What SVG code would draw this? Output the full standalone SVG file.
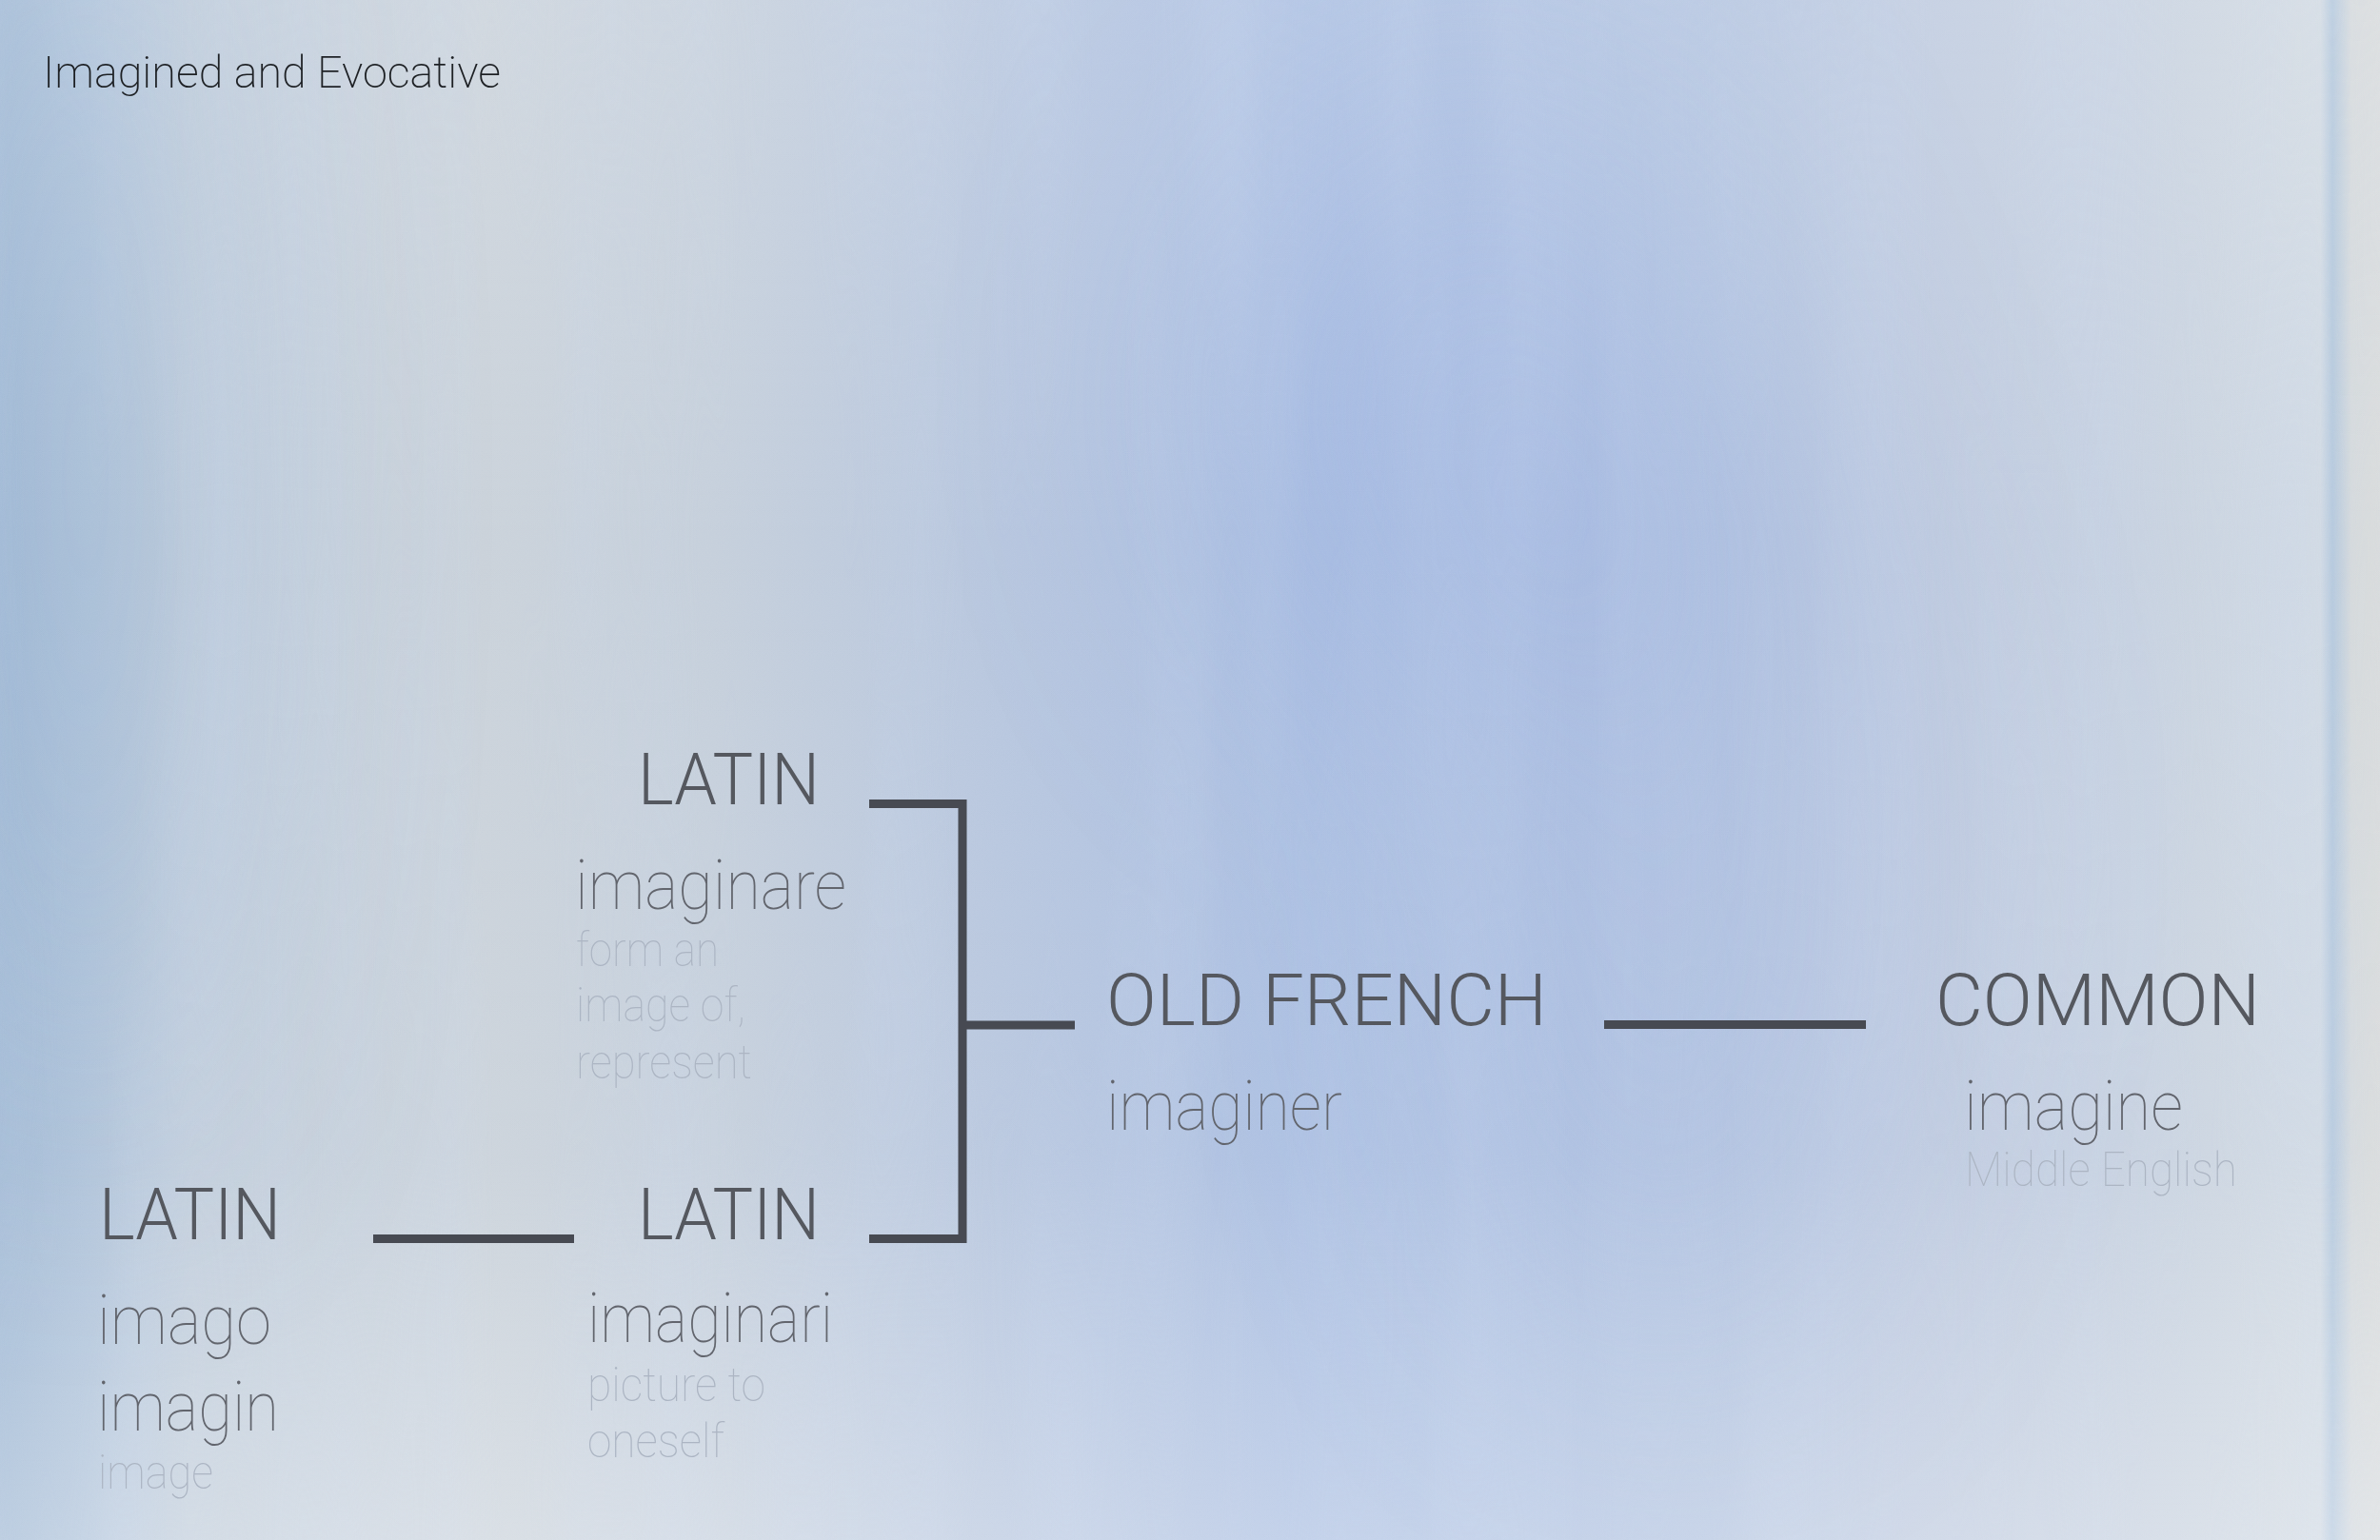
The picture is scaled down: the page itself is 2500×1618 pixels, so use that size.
<svg xmlns="http://www.w3.org/2000/svg" width="2500" height="1618" viewBox="0 0 2500 1618">
<defs>
<linearGradient id="bgH" x1="0" y1="0" x2="1" y2="0">
<stop offset="0" stop-color="#a2bad5"/>
<stop offset="0.035" stop-color="#afc3da"/>
<stop offset="0.08" stop-color="#c2cedb"/>
<stop offset="0.2" stop-color="#cbd3db"/>
<stop offset="0.3" stop-color="#c6d0dc"/>
<stop offset="0.42" stop-color="#b8c7df"/>
<stop offset="0.55" stop-color="#abbfe2"/>
<stop offset="0.64" stop-color="#aec1e1"/>
<stop offset="0.72" stop-color="#b4c5e0"/>
<stop offset="0.8" stop-color="#bfcbe0"/>
<stop offset="0.9" stop-color="#c8d2e0"/>
<stop offset="0.975" stop-color="#d3dbe3"/>
<stop offset="0.98" stop-color="#b4c8dc"/>
<stop offset="0.988" stop-color="#d6dadc"/>
<stop offset="1" stop-color="#dadcdc"/>
</linearGradient>
<linearGradient id="bgV" x1="0" y1="0" x2="0" y2="1">
<stop offset="0" stop-color="#ffffff" stop-opacity="0.12"/>
<stop offset="0.35" stop-color="#ffffff" stop-opacity="0"/>
<stop offset="0.75" stop-color="#ffffff" stop-opacity="0.04"/>
<stop offset="1" stop-color="#ffffff" stop-opacity="0.28"/>
</linearGradient>
<filter id="streaks" x="0" y="0" width="100%" height="100%">
<feTurbulence type="fractalNoise" baseFrequency="0.008 0.0008" numOctaves="3" seed="4"/>
<feColorMatrix type="matrix" values="0 0 0 0 0.58  0 0 0 0 0.68  0 0 0 0 0.86  0 0 0 1.6 -0.55"/>
</filter>
<filter id="grain" x="0" y="0" width="100%" height="100%">
<feTurbulence type="fractalNoise" baseFrequency="0.9" numOctaves="2" seed="7"/>
<feColorMatrix type="matrix" values="0 0 0 0 1  0 0 0 0 1  0 0 0 0 1  0 0 0 0.25 -0.05"/>
</filter>
<filter id="soft" x="-50%" y="-50%" width="200%" height="200%">
<feGaussianBlur stdDeviation="140"/>
</filter>
<style>
.hd{font-family:Roboto,"Liberation Sans",sans-serif;font-weight:300;font-size:76px;fill:#55585f}
.wd{font-family:Roboto,"Liberation Sans",sans-serif;font-weight:100;font-size:73px;fill:#62656d}
.ft{font-family:Roboto,"Liberation Sans",sans-serif;font-weight:100;font-size:50px;fill:#acb5c3}
.ttl{font-family:Roboto,"Liberation Sans",sans-serif;font-weight:200;font-size:46px;fill:#1d2024}
.cn{fill:none;stroke:#474a52;stroke-width:9;stroke-linejoin:miter;stroke-linecap:butt}
</style>
</defs>
<g id="background">
<rect width="2500" height="1618" fill="url(#bgH)"/>
<g filter="url(#soft)">
<ellipse cx="1550" cy="420" rx="260" ry="320" fill="#9db4e2" opacity="0.45"/>
<ellipse cx="1750" cy="900" rx="220" ry="500" fill="#a2b8e3" opacity="0.35"/>
<ellipse cx="90" cy="500" rx="110" ry="700" fill="#9cb6d4" opacity="0.45"/>
</g>
<rect width="2500" height="1618" filter="url(#streaks)" opacity="0.3"/>
<rect width="2500" height="1618" fill="url(#bgV)"/>
<rect width="2500" height="1618" filter="url(#grain)" opacity="0.25"/>
</g>
<g id="title"><text class="ttl" x="45" y="92" textLength="481" lengthAdjust="spacingAndGlyphs">Imagined and Evocative</text></g>
<g id="connectors">
<path class="cn" d="M913,844.5 H1011 V1301.5 H913"/>
<path class="cn" d="M1011,1077 H1129"/>
<path class="cn" d="M392,1301.5 H603"/>
<path class="cn" d="M1685,1076.5 H1960"/>
</g>
<g id="node-latin-imaginare">
<text class="hd" x="670" y="845" textLength="191" lengthAdjust="spacingAndGlyphs">LATIN</text>
<text class="wd" x="604" y="955" textLength="285" lengthAdjust="spacingAndGlyphs">imaginare</text>
<text class="ft" x="605" y="1015" textLength="150" lengthAdjust="spacingAndGlyphs">form an</text>
<text class="ft" x="605" y="1073" textLength="178" lengthAdjust="spacingAndGlyphs">image of,</text>
<text class="ft" x="605" y="1133" textLength="185" lengthAdjust="spacingAndGlyphs">represent</text>
</g>
<g id="node-old-french">
<text class="hd" x="1162" y="1077" textLength="463" lengthAdjust="spacingAndGlyphs">OLD FRENCH</text>
<text class="wd" x="1162" y="1187" textLength="248" lengthAdjust="spacingAndGlyphs">imaginer</text>
</g>
<g id="node-common">
<text class="hd" x="2033" y="1077" textLength="341" lengthAdjust="spacingAndGlyphs">COMMON</text>
<text class="wd" x="2063" y="1187" textLength="230" lengthAdjust="spacingAndGlyphs">imagine</text>
<text class="ft" x="2064" y="1246" textLength="286" lengthAdjust="spacingAndGlyphs">Middle English</text>
</g>
<g id="node-latin-imago">
<text class="hd" x="104" y="1302" textLength="191" lengthAdjust="spacingAndGlyphs">LATIN</text>
<text class="wd" x="102" y="1412" textLength="183" lengthAdjust="spacingAndGlyphs">imago</text>
<text class="wd" x="102" y="1503" textLength="191" lengthAdjust="spacingAndGlyphs">imagin</text>
<text class="ft" x="103" y="1564" textLength="121" lengthAdjust="spacingAndGlyphs">image</text>
</g>
<g id="node-latin-imaginari">
<text class="hd" x="670" y="1302" textLength="191" lengthAdjust="spacingAndGlyphs">LATIN</text>
<text class="wd" x="617" y="1410" textLength="258" lengthAdjust="spacingAndGlyphs">imaginari</text>
<text class="ft" x="617" y="1472" textLength="187" lengthAdjust="spacingAndGlyphs">picture to</text>
<text class="ft" x="617" y="1531" textLength="144" lengthAdjust="spacingAndGlyphs">oneself</text>
</g>
</svg>
